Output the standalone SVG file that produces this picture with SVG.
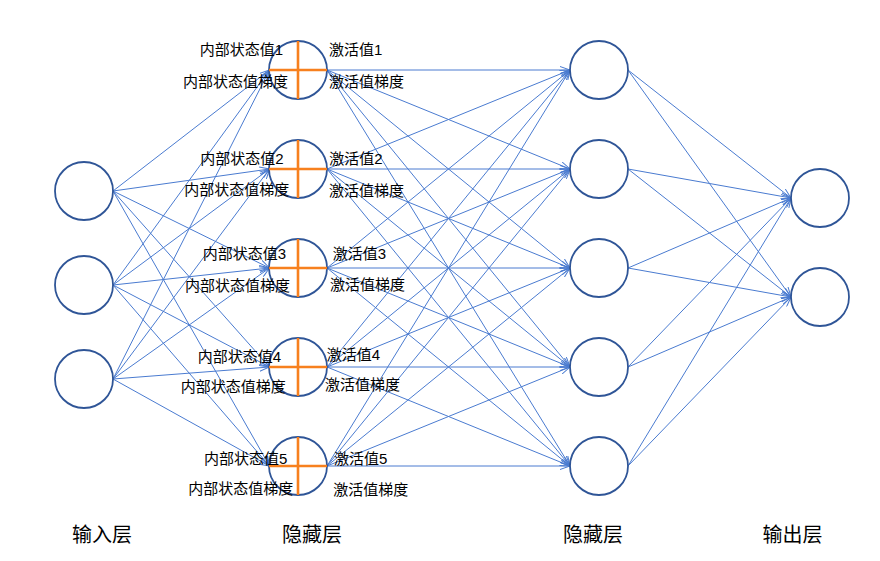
<svg xmlns="http://www.w3.org/2000/svg" width="880" height="561" viewBox="0 0 880 561">
<style>
.bg{fill:#ffffff}
.c{fill:#ffffff;stroke:#2F5597;stroke-width:1.8}
.x{stroke:#F7801E;stroke-width:2.6;fill:none}
.e{stroke:#4A7BD0;stroke-width:1;fill:none;marker-end:url(#ah)}
.t{font-family:"Liberation Sans","Noto Sans CJK SC",sans-serif;font-size:15px;fill:#000}
.l{text-anchor:end}
.b{font-family:"Noto Sans CJK SC",sans-serif;font-size:20px;fill:#000;text-anchor:middle}
</style>
<defs>
<marker id="ah" viewBox="0 0 10 8" refX="10" refY="4" markerWidth="10" markerHeight="8" markerUnits="userSpaceOnUse" orient="auto">
<path d="M0,0.5 L10,4 L0,7.5" fill="none" stroke="#4A7BD0" stroke-width="1"/>
</marker>
</defs>
<rect class="bg" x="0" y="0" width="880" height="561"/>
<g id="connectors">
<path class="e" d="M113,191 L269.5,70"/>
<path class="e" d="M113,191 L269.5,169"/>
<path class="e" d="M113,191 L269.5,268"/>
<path class="e" d="M113,191 L269.5,367"/>
<path class="e" d="M113,191 L269.5,466"/>
<path class="e" d="M113,285 L269.5,70"/>
<path class="e" d="M113,285 L269.5,169"/>
<path class="e" d="M113,285 L269.5,268"/>
<path class="e" d="M113,285 L269.5,367"/>
<path class="e" d="M113,285 L269.5,466"/>
<path class="e" d="M113,379 L269.5,70"/>
<path class="e" d="M113,379 L269.5,169"/>
<path class="e" d="M113,379 L269.5,268"/>
<path class="e" d="M113,379 L269.5,367"/>
<path class="e" d="M113,379 L269.5,466"/>
<path class="e" d="M327,70 L570,70"/>
<path class="e" d="M327,70 L570,169"/>
<path class="e" d="M327,70 L570,268"/>
<path class="e" d="M327,70 L570,367"/>
<path class="e" d="M327,70 L570,466"/>
<path class="e" d="M327,169 L570,70"/>
<path class="e" d="M327,169 L570,169"/>
<path class="e" d="M327,169 L570,268"/>
<path class="e" d="M327,169 L570,367"/>
<path class="e" d="M327,169 L570,466"/>
<path class="e" d="M327,268 L570,70"/>
<path class="e" d="M327,268 L570,169"/>
<path class="e" d="M327,268 L570,268"/>
<path class="e" d="M327,268 L570,367"/>
<path class="e" d="M327,268 L570,466"/>
<path class="e" d="M327,367 L570,70"/>
<path class="e" d="M327,367 L570,169"/>
<path class="e" d="M327,367 L570,268"/>
<path class="e" d="M327,367 L570,367"/>
<path class="e" d="M327,367 L570,466"/>
<path class="e" d="M327,466 L570,70"/>
<path class="e" d="M327,466 L570,169"/>
<path class="e" d="M327,466 L570,268"/>
<path class="e" d="M327,466 L570,367"/>
<path class="e" d="M327,466 L570,466"/>
<path class="e" d="M628,70 L791,198"/>
<path class="e" d="M628,70 L791,297"/>
<path class="e" d="M628,169 L791,198"/>
<path class="e" d="M628,169 L791,297"/>
<path class="e" d="M628,268 L791,198"/>
<path class="e" d="M628,268 L791,297"/>
<path class="e" d="M628,367 L791,198"/>
<path class="e" d="M628,367 L791,297"/>
<path class="e" d="M628,466 L791,198"/>
<path class="e" d="M628,466 L791,297"/>
</g>
<g id="in1"><circle class="c" cx="84" cy="191" r="29"/></g>
<g id="in2"><circle class="c" cx="84" cy="285" r="29"/></g>
<g id="in3"><circle class="c" cx="84" cy="379" r="29"/></g>
<g id="h1">
<circle class="c" cx="298" cy="70" r="29"/>
<path class="x" d="M298,41 V99 M269,70 H327"/>
<text class="t l" x="283" y="55.4">内部状态值1</text>
<text class="t l" x="288" y="87.4">内部状态值梯度</text>
<text class="t" x="329" y="55.2">激活值1</text>
<text class="t" x="329" y="87">激活值梯度</text>
</g>
<g id="h2">
<circle class="c" cx="298" cy="169" r="29"/>
<path class="x" d="M298,140 V198 M269,169 H327"/>
<text class="t l" x="283.5" y="164">内部状态值2</text>
<text class="t l" x="289.3" y="195.4">内部状态值梯度</text>
<text class="t" x="329.3" y="163.7">激活值2</text>
<text class="t" x="329" y="196">激活值梯度</text>
</g>
<g id="h3">
<circle class="c" cx="298" cy="268" r="29"/>
<path class="x" d="M298,239 V297 M269,268 H327"/>
<text class="t l" x="286" y="259.4">内部状态值3</text>
<text class="t l" x="290" y="290.7">内部状态值梯度</text>
<text class="t" x="332.7" y="259.4">激活值3</text>
<text class="t" x="330" y="289.7">激活值梯度</text>
</g>
<g id="h4">
<circle class="c" cx="298" cy="367" r="29"/>
<path class="x" d="M298,338 V396 M269,367 H327"/>
<text class="t l" x="281" y="361.5">内部状态值4</text>
<text class="t l" x="285.7" y="392">内部状态值梯度</text>
<text class="t" x="326.7" y="360.4">激活值4</text>
<text class="t" x="325" y="390.4">激活值梯度</text>
</g>
<g id="h5">
<circle class="c" cx="298" cy="466" r="29"/>
<path class="x" d="M298,437 V495 M269,466 H327"/>
<text class="t l" x="287.3" y="464.4">内部状态值5</text>
<text class="t l" x="293.3" y="494.2">内部状态值梯度</text>
<text class="t" x="334" y="464.4">激活值5</text>
<text class="t" x="333.3" y="494.7">激活值梯度</text>
</g>
<g id="g1"><circle class="c" cx="599" cy="70" r="29"/></g>
<g id="g2"><circle class="c" cx="599" cy="169" r="29"/></g>
<g id="g3"><circle class="c" cx="599" cy="268" r="29"/></g>
<g id="g4"><circle class="c" cx="599" cy="367" r="29"/></g>
<g id="g5"><circle class="c" cx="599" cy="466" r="29"/></g>
<g id="o1"><circle class="c" cx="820" cy="198" r="29"/></g>
<g id="o2"><circle class="c" cx="820" cy="297" r="29"/></g>
<g id="layer-labels">
<text class="b" x="102" y="542">输入层</text>
<text class="b" x="312" y="542">隐藏层</text>
<text class="b" x="593" y="542">隐藏层</text>
<text class="b" x="792.5" y="542">输出层</text>
</g>
</svg>
